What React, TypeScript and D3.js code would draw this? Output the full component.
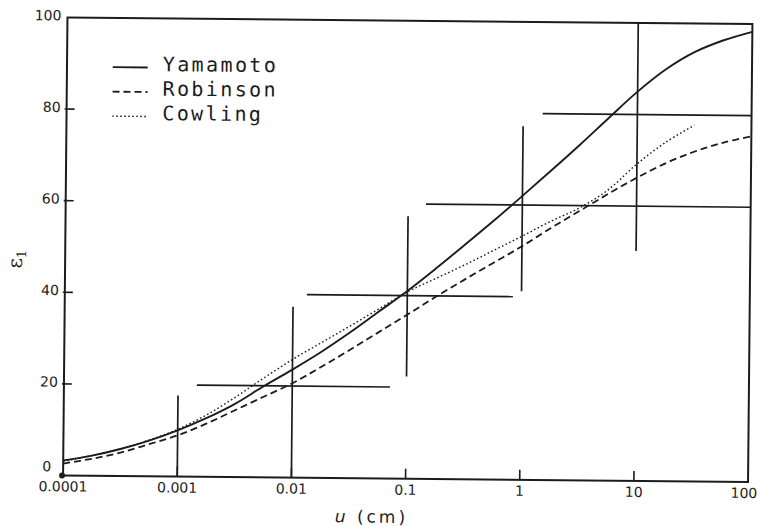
import React from "react";
import * as d3 from "d3";

// ---- data ----
const xTickValues = [0.0001, 0.001, 0.01, 0.1, 1, 10, 100];
const xTickLabels = ["0.0001", "0.001", "0.01", "0.1", "1", "10", "100"];
const yTickValues = [0, 20, 40, 60, 80, 100];
const yTickLabels = ["0", "20", "40", "60", "80", "100"];

// log10(u) sample positions of the curves
const log10U = [
  -4, -3.75, -3.5, -3.25, -3, -2.75, -2.5, -2.25, -2, -1.75, -1.5, -1.25, -1,
  -0.75, -0.5, -0.25, 0, 0.25, 0.5, 0.75, 1, 1.25, 1.5, 1.75, 2,
];
const yamamoto = [
  3.3, 4.4, 5.9, 7.8, 10.1, 12.8, 16.0, 19.9, 23.6, 27.5, 31.8, 36.4, 41.0,
  46.0, 51.2, 56.5, 62.0, 67.6, 73.3, 79.2, 85.0, 90.0, 93.8, 96.4, 98.3,
];
const robinson = [
  2.6, 3.7, 5.1, 7.0, 9.0, 11.6, 14.6, 17.6, 20.6, 24.2, 28.0, 31.9, 35.8,
  39.8, 43.6, 47.3, 51.0, 55.0, 58.8, 62.6, 66.2, 69.4, 72.0, 74.0, 75.5,
];
const cowlingLog10U = [
  -4, -3.75, -3.5, -3.25, -3, -2.75, -2.5, -2.25, -2, -1.75, -1.5, -1.25, -1,
  -0.75, -0.5, -0.25, 0, 0.25, 0.5, 0.75, 1, 1.25, 1.5,
];
const cowling = [
  3.1, 4.4, 5.9, 7.9, 10.3, 13.5, 17.4, 21.7, 25.8, 29.5, 33.2, 37.0, 40.8,
  43.8, 46.8, 50.0, 53.2, 56.5, 59.5, 63.5, 69.2, 74.0, 77.8,
];

// range crosses
const crossVerticalU = [0.001, 0.01, 0.1, 1, 10];
const crossVerticalLow = [0, 0, 22.3, 41.2, 50.2];
const crossVerticalHigh = [17.7, 37.3, 57.3, 77.2, 100];
const crossHorizontalE = [20, 40, 60, 80];
const crossHorizontalFrom = [0.00146, 0.0132, 0.143, 1.48];
const crossHorizontalTo = [0.0718, 0.84, 100, 100];

const legendNames = ["Yamamoto", "Robinson", "Cowling"];
const legendDash = ["none", "7,4", "1.6,2.4"];

export default function App() {
  const W = 760;
  const H = 526;
  const L = 65.25;
  const R = 750.25;
  const T = 20.75;
  const B = 478.75;
  const ink = "#1c1c1c";

  const x = d3.scaleLog().domain([1e-4, 100]).range([L, R]);
  const y = d3.scaleLinear().domain([0, 100]).range([B, T]);

  const mk = (lu: number[]) =>
    d3
      .line<number>()
      .x((_, i) => x(Math.pow(10, lu[i])))
      .y((d) => y(d))
      .curve(d3.curveCatmullRom.alpha(0.5));

  const yamPath = mk(log10U)(yamamoto) || "";
  const robPath = mk(log10U)(robinson) || "";
  const cowPath = mk(cowlingLog10U)(cowling) || "";

  const numFont = "'DejaVu Sans', sans-serif";

  return (
    <svg
      width={W}
      height={H}
      viewBox={`0 0 ${W} ${H}`}
      style={{ position: "absolute", left: 0, top: 0, display: "block", background: "#fff" }}
    >
      <rect x={0} y={0} width={W} height={H} fill="#fff" />
      <g transform="rotate(0.55 407.75 249.75)">
        {/* frame */}
        <rect x={L} y={T} width={R - L} height={B - T} fill="none" stroke={ink} strokeWidth={2} />

        {/* y ticks */}
        {yTickValues.map((v, i) => (
          <g key={"yt" + i}>
            {v > 0 && v < 100 && (
              <line x1={L - 2} x2={L + 8} y1={y(v)} y2={y(v)} stroke={ink} strokeWidth={1.6} />
            )}
            <text
              x={L - (v === 0 ? 12 : 6)}
              y={y(v) - (v === 0 ? 8 : 1)}
              textAnchor="end"
              dominantBaseline="middle"
              fontFamily={numFont}
              fontSize={14}
              fill={ink}
            >
              {yTickLabels[i]}
            </text>
          </g>
        ))}

        {/* x ticks */}
        {xTickValues.map((v, i) => (
          <g key={"xt" + i}>
            {i > 0 && i < xTickValues.length - 1 && (
              <line x1={x(v)} x2={x(v)} y1={B} y2={B - 10} stroke={ink} strokeWidth={1.6} />
            )}
            <text
              x={x(v) - (i === xTickValues.length - 1 ? 4 : 0)}
              y={B + 16}
              textAnchor="middle"
              fontFamily={numFont}
              fontSize={14}
              fill={ink}
            >
              {xTickLabels[i]}
            </text>
          </g>
        ))}
        <circle cx={L - 1} cy={B} r={3} fill={ink} />

        {/* crosses */}
        {crossVerticalU.map((u, i) => (
          <line
            key={"cv" + i}
            x1={x(u)}
            x2={x(u)}
            y1={y(crossVerticalLow[i])}
            y2={y(crossVerticalHigh[i])}
            stroke={ink}
            strokeWidth={1.7}
          />
        ))}
        {crossHorizontalE.map((e, i) => (
          <line
            key={"ch" + i}
            x1={x(crossHorizontalFrom[i])}
            x2={x(crossHorizontalTo[i])}
            y1={y(e)}
            y2={y(e)}
            stroke={ink}
            strokeWidth={1.7}
          />
        ))}

        {/* curves */}
        <path d={robPath} fill="none" stroke={ink} strokeWidth={1.8} strokeDasharray="7,4" />
        <path d={cowPath} fill="none" stroke={ink} strokeWidth={1.4} strokeDasharray="1.6,2.4" />
        <path d={yamPath} fill="none" stroke={ink} strokeWidth={1.9} />

        {/* legend */}
        {legendNames.map((name, i) => (
          <g key={"lg" + i}>
            <line
              x1={111}
              x2={146}
              y1={70 + i * 24.5}
              y2={70 + i * 24.5}
              stroke={ink}
              strokeWidth={i === 2 ? 1.4 : 1.8}
              strokeDasharray={legendDash[i]}
            />
            <text
              x={161}
              y={73.5 + i * 24.5}
              fontFamily="'DejaVu Sans Mono', monospace"
              fontSize={20}
              letterSpacing={2.4}
              fill={ink}
            >
              {name}
            </text>
          </g>
        ))}

        {/* axis titles */}
        <text
          x={374}
          y={523}
          textAnchor="middle"
          fontFamily="'DejaVu Sans', sans-serif"
          fontSize={17}
          letterSpacing={3}
          fill={ink}
        >
          <tspan fontStyle="italic">u</tspan> (cm)
        </text>
        <text
          transform="translate(22 263) rotate(-90)"
          textAnchor="middle"
          fontFamily="'DejaVu Serif', serif"
          fontSize={20}
          fill={ink}
        >
          ε<tspan fontSize={13} dy={4}>1</tspan>
        </text>
      </g>
    </svg>
  );
}
